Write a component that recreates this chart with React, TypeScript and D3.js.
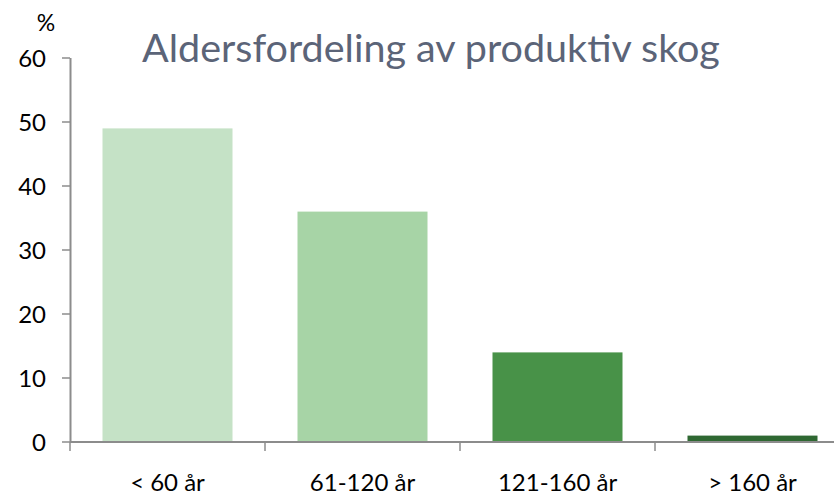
import React from 'react';
import * as d3 from 'd3';

const categories = ['< 60 år', '61-120 år', '121-160 år', '> 160 år'];
const values = [49, 36, 14, 1];
const barColors = ['#c5e2c6', '#a7d4a6', '#489248', '#2f6832'];
const yTicks = [0, 10, 20, 30, 40, 50, 60];

const width = 834;
const height = 495;
const axisColor = '#8c8c8c';
const font = 'Lato, "Open Sans", sans-serif';

const x = d3
  .scaleBand<string>()
  .domain(categories)
  .range([70, 850])
  .paddingInner(1 / 3)
  .paddingOuter(1 / 6);

const y = d3.scaleLinear().domain([0, 60]).range([442, 58]);

const App = () => {
  const step = x.step();
  const bounds = d3.range(categories.length + 1).map(i => 70 + i * step);

  return (
    <svg
      width={width}
      height={height}
      style={{ position: 'absolute', left: 0, top: 0, background: '#fff' }}
    >
      <text
        x={431}
        y={62}
        textAnchor="middle"
        fontFamily={font}
        fontSize={39.5}
        fill="#5b6478"
      >
        Aldersfordeling av produktiv skog
      </text>
      <text x={46} y={31} textAnchor="middle" fontFamily={font} fontSize={23} fill="#000">
        %
      </text>

      {categories.map((c, i) => (
        <rect
          key={c}
          x={x(c)}
          y={y(values[i])}
          width={x.bandwidth()}
          height={y(0) - y(values[i])}
          fill={barColors[i]}
        />
      ))}

      {/* y axis */}
      <line x1={70.5} x2={70.5} y1={y(60)} y2={y(0)} stroke={axisColor} strokeWidth={2} />
      {yTicks.map(t => (
        <g key={t}>
          <line x1={62} x2={70} y1={y(t)} y2={y(t)} stroke={axisColor} strokeWidth={1.5} />
          <text
            x={46}
            y={y(t)}
            dy="0.36em"
            textAnchor="end"
            fontFamily={font}
            fontSize={24}
            fill="#000"
          >
            {t}
          </text>
        </g>
      ))}

      {/* x axis */}
      <line x1={70} x2={850} y1={y(0)} y2={y(0)} stroke={axisColor} strokeWidth={2} />
      {bounds.map(b => (
        <line key={b} x1={b} x2={b} y1={y(0)} y2={y(0) + 9} stroke={axisColor} strokeWidth={1.5} />
      ))}
      {categories.map(c => (
        <text
          key={c}
          x={(x(c) ?? 0) + x.bandwidth() / 2}
          y={491}
          textAnchor="middle"
          fontFamily={font}
          fontSize={24}
          fill="#000"
        >
          {c}
        </text>
      ))}
    </svg>
  );
};

export default App;
